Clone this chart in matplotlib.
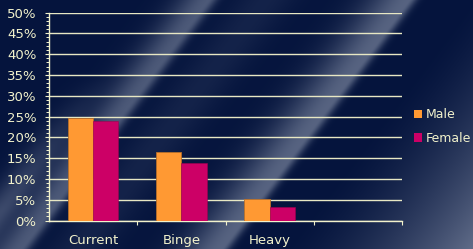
import numpy as np
import matplotlib
matplotlib.use("Agg")
import matplotlib.pyplot as plt
from matplotlib.patches import Patch
from matplotlib.ticker import MultipleLocator, FixedLocator, PercentFormatter

# values (percent)
categories = ["Current", "Binge", "Heavy", ""]
male = [24.6, 16.4, 5.1, np.nan]
female = [23.9, 13.8, 3.2, np.nan]
series_names = ["Male", "Female"]

W, H = 473, 249
CREAM = "#f2f2cc"
GRID = "#e8e8c4"
ORANGE = "#ff9933"
MAGENTA = "#cc0066"

fig = plt.figure(figsize=(W / 100, H / 100), dpi=100)

# background: navy with soft diagonal light streaks
bg_ax = fig.add_axes([0, 0, 1, 1], zorder=0)
bg_ax.set_axis_off()
X, Y = np.meshgrid(np.arange(W) + 0.5, np.arange(H) + 0.5)
u = X + 0.75 * Y


def streak(u, c, sl, sr):
    d = u - c
    s = np.where(d < 0, sl, sr)
    return np.exp(-(d / s) ** 2)


t = (0.34 * streak(u, 158, 22, 16) * np.clip((Y - 70) / 140, 0, 1)
     + 0.48 * streak(u, 208, 30, 9)
     + 0.10 * streak(u, 265, 30, 30)
     + 0.55 * streak(u, 408, 40, 8)
     + 0.62 * np.clip((u - 470) / 190, 0, 1) ** 1.5)
t = np.clip(t, 0, 1)[..., None]
base = np.array([0.02, 0.08, 0.24])
light = np.array([0.60, 0.64, 0.72])
bg_ax.imshow(base * (1 - t) + light * t, extent=(0, W, H, 0), aspect="auto")
bg_ax.set_xlim(0, W)
bg_ax.set_ylim(H, 0)

ax = fig.add_axes([49 / W, 28.5 / H, 353 / W, 208 / H], zorder=1)
ax.patch.set_alpha(0)

x = np.arange(len(categories))
width = 0.285
ax.bar(x - width / 2, male, width, color=ORANGE, edgecolor="#b8702a",
       linewidth=0.6, zorder=3)
ax.bar(x + width / 2, female, width, color=MAGENTA, edgecolor="#a0004f",
       linewidth=0.4, zorder=3)

ax.set_xlim(-0.5, len(categories) - 0.5)
ax.set_ylim(0, 50)
ax.yaxis.set_major_locator(MultipleLocator(5))
ax.yaxis.set_minor_locator(MultipleLocator(1))
ax.yaxis.set_major_formatter(PercentFormatter(decimals=0))
ax.grid(axis="y", which="major", color=GRID, linewidth=1.0, zorder=1)

ax.set_xticks(x)
ax.set_xticklabels(categories)
ax.xaxis.set_minor_locator(FixedLocator(np.arange(0.5, len(categories), 1)))

for side in ["top", "right"]:
    ax.spines[side].set_visible(False)
for side in ["left", "bottom"]:
    ax.spines[side].set_color(CREAM)
    ax.spines[side].set_linewidth(1.0)

ax.tick_params(axis="y", which="major", length=3, width=0.8, color=CREAM,
               labelcolor=CREAM, labelsize=9.5, pad=6)
ax.tick_params(axis="y", which="minor", length=2.5, width=0.7, color=CREAM)
ax.tick_params(axis="x", which="major", length=0, labelcolor=CREAM,
               labelsize=9.5, pad=9.5)
ax.tick_params(axis="x", which="minor", length=3, width=0.8, color=CREAM)

handles = [Patch(facecolor=ORANGE, edgecolor="none"),
           Patch(facecolor=MAGENTA, edgecolor="none")]
leg = fig.legend(handles, series_names, loc="center left",
                 bbox_to_anchor=(414 / W, 1 - 126.5 / H), frameon=False,
                 fontsize=9, handlelength=0.65, handleheight=0.65,
                 handletextpad=0.3, labelspacing=0.85, borderaxespad=0,
                 borderpad=0)
for txt in leg.get_texts():
    txt.set_color(CREAM)

fig.savefig("out.png", dpi=100)
